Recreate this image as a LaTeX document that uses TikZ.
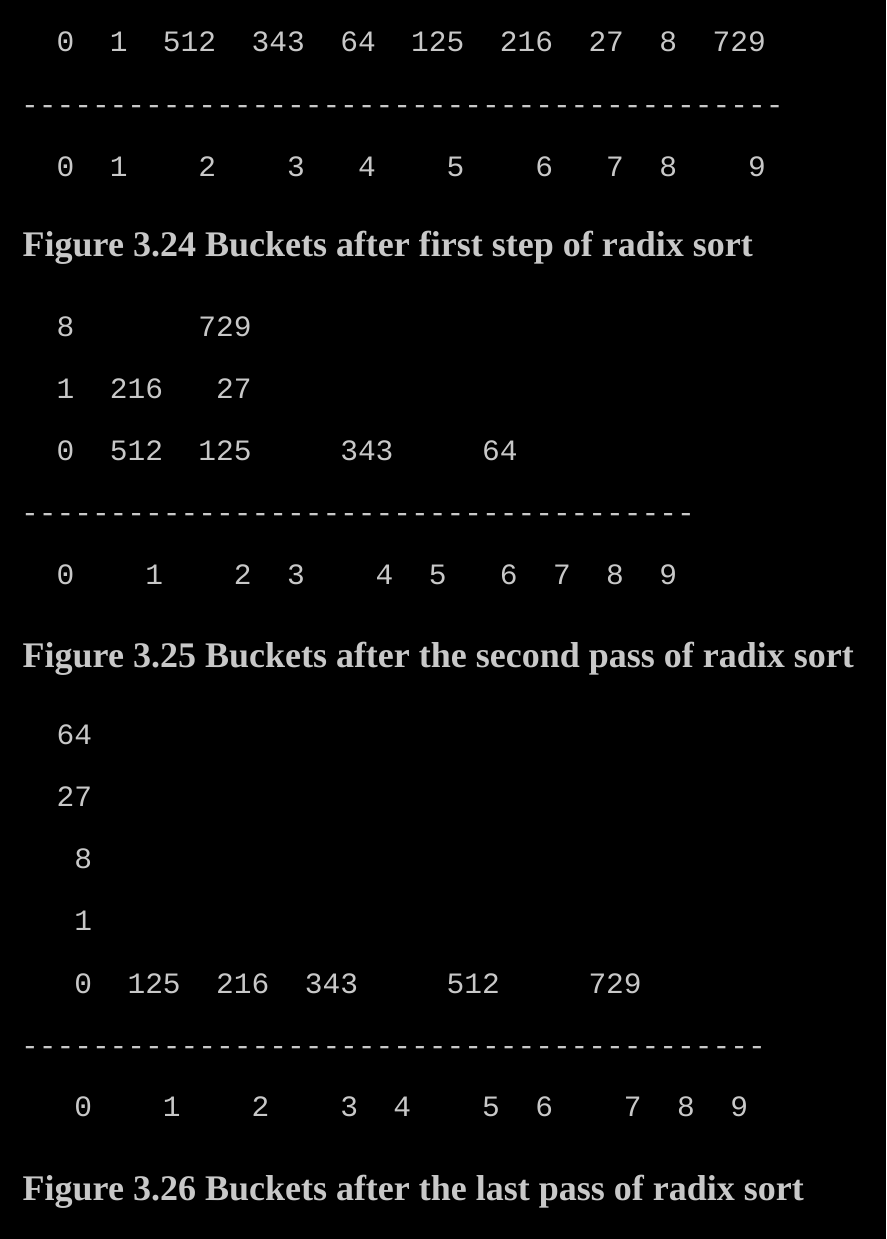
\documentclass[tikz,border=0pt]{standalone}
\usepackage{fontspec}
\setmainfont{Liberation Serif}
\setmonofont{Liberation Mono}
\definecolor{txt}{RGB}{200,200,200}
\begin{document}
\begin{tikzpicture}[x=1pt,y=-1pt,
  num/.style={anchor=base west, inner sep=0pt, outer sep=0pt, text=txt, font=\ttfamily\fontsize{29.55}{30}\selectfont},
  figcap/.style={anchor=base west, inner sep=0pt, outer sep=0pt, text=txt, font=\bfseries\fontsize{36}{40}\selectfont}]
\fill[black] (0,0) rectangle (886,1239);
\useasboundingbox (0,0) rectangle (886,1239);
% ---------- Figure 3.24
\foreach \i/\t [count=\k] in {0/0,3/1,6/512,11/343,16/64,20/125,25/216,30/27,34/8,37/729}
  \node[num] (a-r1-\k) at ({56.6+\i*17.73},52) {\t};
\node[num] (a-line) at (21.1,114.6) {-------------------------------------------};
\foreach \i/\t [count=\k] in {0/0,3/1,8/2,13/3,17/4,22/5,27/6,31/7,34/8,39/9}
  \node[num] (a-b-\k) at ({56.6+\i*17.73},176) {\t};
\node[figcap] (a-cap) at (22.7,256.7) {Figure 3.24 Buckets after first step of radix sort};
% ---------- Figure 3.25
\foreach \i/\t [count=\k] in {0/8,8/729}
  \node[num] (b-r3-\k) at ({56.6+\i*17.73},336) {\t};
\foreach \i/\t [count=\k] in {0/1,3/216,9/27}
  \node[num] (b-r2-\k) at ({56.6+\i*17.73},398) {\t};
\foreach \i/\t [count=\k] in {0/0,3/512,8/125,16/343,24/64}
  \node[num] (b-r1-\k) at ({56.6+\i*17.73},460) {\t};
\node[num] (b-line) at (21.1,522.6) {--------------------------------------};
\foreach \i/\t [count=\k] in {0/0,5/1,10/2,13/3,18/4,21/5,25/6,28/7,31/8,34/9}
  \node[num] (b-b-\k) at ({56.6+\i*17.73},584) {\t};
\node[figcap] (b-cap) at (22.7,667) {Figure 3.25 Buckets after the second pass of radix sort};
% ---------- Figure 3.26
\node[num] (c-r5) at (56.6,744) {64};
\node[num] (c-r4) at (56.6,806) {27};
\node[num] (c-r3) at ({56.6+17.73},868) {8};
\node[num] (c-r2) at ({56.6+17.73},930) {1};
\foreach \i/\t [count=\k] in {1/0,4/125,9/216,14/343,22/512,30/729}
  \node[num] (c-r1-\k) at ({56.6+\i*17.73},993) {\t};
\node[num] (c-line) at (21.1,1055.6) {------------------------------------------};
\foreach \i/\t [count=\k] in {1/0,6/1,11/2,16/3,19/4,24/5,27/6,32/7,35/8,38/9}
  \node[num] (c-b-\k) at ({56.6+\i*17.73},1116) {\t};
\node[figcap] (c-cap) at (22.7,1200) {Figure 3.26 Buckets after the last pass of radix sort};
\end{tikzpicture}
\end{document}
